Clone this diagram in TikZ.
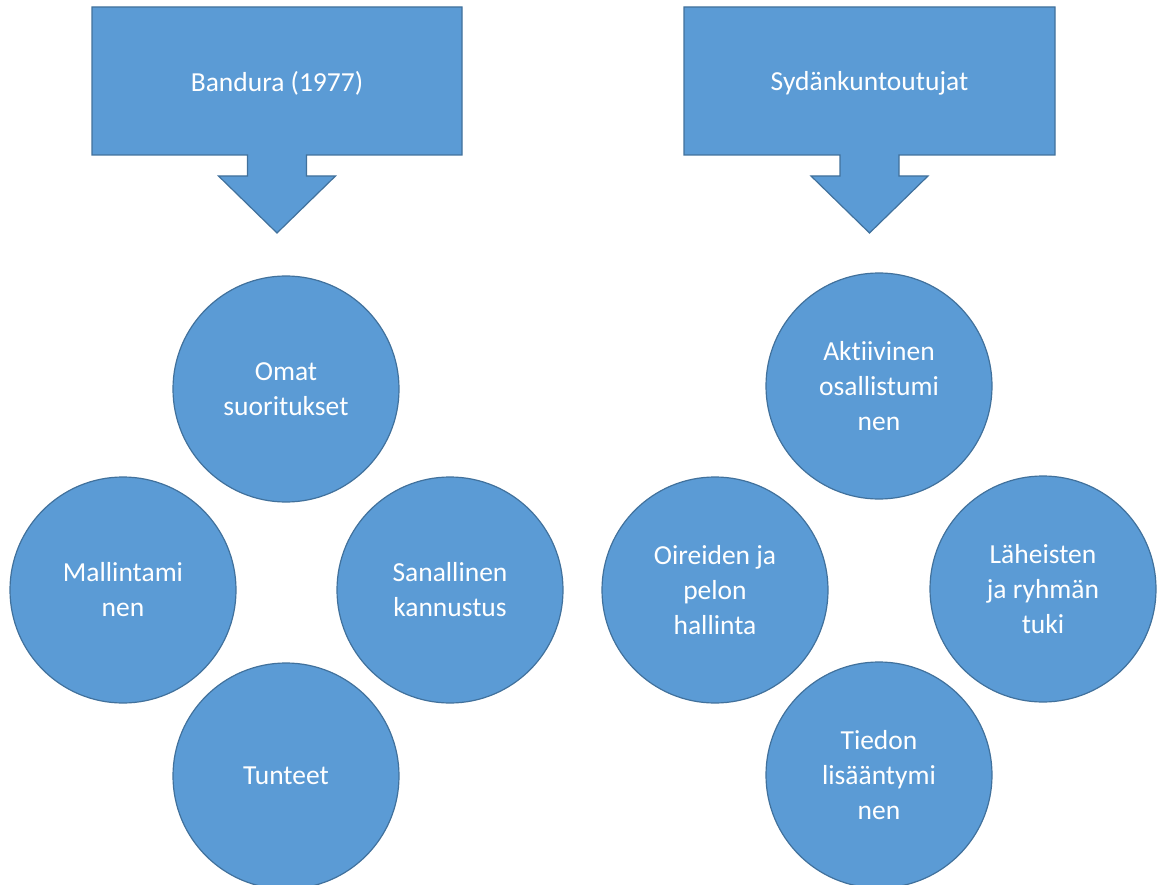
\documentclass[tikz,border=0pt]{standalone}
\usepackage{fontspec}
\setmainfont[Ligatures={NoCommon,NoRare,NoContextual}]{Carlito}
\usepackage{tikz}
\usetikzlibrary{positioning}
\definecolor{shapeblue}{HTML}{5B9BD5}
\definecolor{lineblue}{HTML}{41719C}
\tikzset{
	callout/.style={fill=shapeblue, draw=lineblue, line width=1.2pt, line join=miter},
	title/.style={text=white, font=\fontsize{27.5}{35}\selectfont},
	bubble/.style={circle, minimum size=226pt, inner sep=0pt, fill=shapeblue, draw=lineblue, line width=1.2pt, text=white, align=center, font=\fontsize{27.5}{35}\selectfont}
}

\begin{document}
\begin{tikzpicture}[x=1pt, y=-1pt]
			\clip (0,0) rectangle (1157,885);
			% callouts
			\filldraw[callout] (92,7) -- (462,7) -- (462,155) -- (306.5,155) -- (306.5,176) -- (335.5,176) -- (277,233) -- (218.5,176) -- (247.5,176) -- (247.5,155) -- (92,155) -- cycle;
			\node[title] (bandura) at (277,83) {Bandura (1977)};
			\filldraw[callout] (684,7) -- (1055,7) -- (1055,155) -- (899,155) -- (899,176) -- (928,176) -- (869.5,233) -- (811,176) -- (840,176) -- (840,155) -- (684,155) -- cycle;
			\node[title] (sydan) at (869.5,83) {Sydänkuntoutujat};
			% left group
			\node[bubble] (omat) at (286,389) {Omat\\suoritukset};
			\node[bubble] (malli) at (123,590) {Mallintami\\nen};
			\node[bubble] (sanal) at (450,590) {Sanallinen\\kannustus};
			\node[bubble] (tunteet) at (286,776) {Tunteet};
			% right group
			\node[bubble] (aktiiv) at (879,386) {Aktiivinen\\osallistumi\\nen};
			\node[bubble] (oireet) at (715,590) {Oireiden ja\\pelon\\hallinta};
			\node[bubble] (laheiset) at (1043,589) {Läheisten\\ja ryhmän\\tuki};
			\node[bubble] (tieto) at (879,775) {Tiedon\\lisääntymi\\nen};
		\end{tikzpicture}
\end{document}
